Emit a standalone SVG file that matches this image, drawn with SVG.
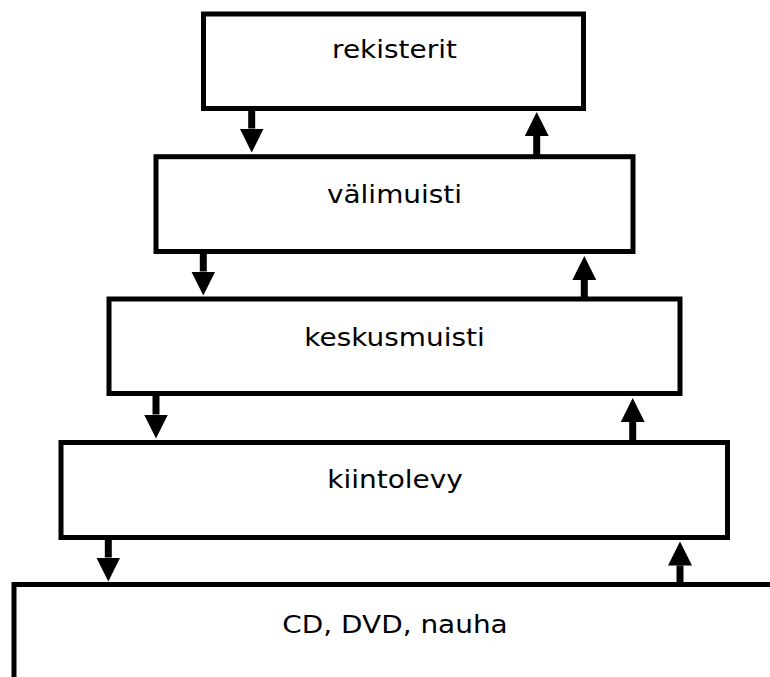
<svg xmlns="http://www.w3.org/2000/svg" width="770" height="677" viewBox="0 0 770 677">
  <style>
    .box { fill: #ffffff; stroke: #000000; stroke-width: 5; }
    .lbl { font-family: "DejaVu Sans", "Liberation Sans", sans-serif; font-size: 24.5px; fill: #000000; text-anchor: middle; }
    .flow { stroke: #000000; stroke-width: 7; fill: none; marker-end: url(#head); }
  </style>
  <defs>
    <marker id="head" markerUnits="userSpaceOnUse" markerWidth="24" markerHeight="24" refX="0" refY="12" orient="auto">
      <path d="M0,0 L24,12 L0,24 Z" fill="#000000"/>
    </marker>
  </defs>
  <rect width="770" height="677" fill="#ffffff"/>

  <!-- memory hierarchy levels, fastest at the top -->
  <g id="rekisterit">
    <rect class="box" x="203.5" y="14" width="380" height="94.5"/>
    <text class="lbl" transform="translate(394.5,58.3) scale(1.14,1)">rekisterit</text>
  </g>
  <g id="valimuisti">
    <rect class="box" x="156" y="156.7" width="477" height="94.8"/>
    <text class="lbl" transform="translate(394.5,203.3) scale(1.14,1)">välimuisti</text>
  </g>
  <g id="keskusmuisti">
    <rect class="box" x="109" y="299" width="571" height="94.5"/>
    <text class="lbl" transform="translate(394.5,346) scale(1.14,1)">keskusmuisti</text>
  </g>
  <g id="kiintolevy">
    <rect class="box" x="61" y="442.5" width="666.5" height="95"/>
    <text class="lbl" transform="translate(395,488.3) scale(1.14,1)">kiintolevy</text>
  </g>
  <g id="cd-dvd-nauha">
    <rect class="box" x="14" y="584.5" width="800" height="200"/>
    <text class="lbl" transform="translate(395,633.3) scale(1.14,1)">CD, DVD, nauha</text>
  </g>

  <!-- transfers between adjacent levels: down on the left, up on the right -->
  <g id="connectors">
    <line class="flow" x1="251.7" y1="109" x2="251.7" y2="128.5"/>
    <line class="flow" x1="203.3" y1="251.5" x2="203.3" y2="271.5"/>
    <line class="flow" x1="156" y1="394" x2="156" y2="414.5"/>
    <line class="flow" x1="108.3" y1="537" x2="108.3" y2="557.5"/>

    <line class="flow" x1="536.7" y1="156.7" x2="536.7" y2="136"/>
    <line class="flow" x1="584.3" y1="299" x2="584.3" y2="280"/>
    <line class="flow" x1="632.7" y1="442.5" x2="632.7" y2="422"/>
    <line class="flow" x1="680" y1="584.5" x2="680" y2="565.5"/>
  </g>
</svg>
